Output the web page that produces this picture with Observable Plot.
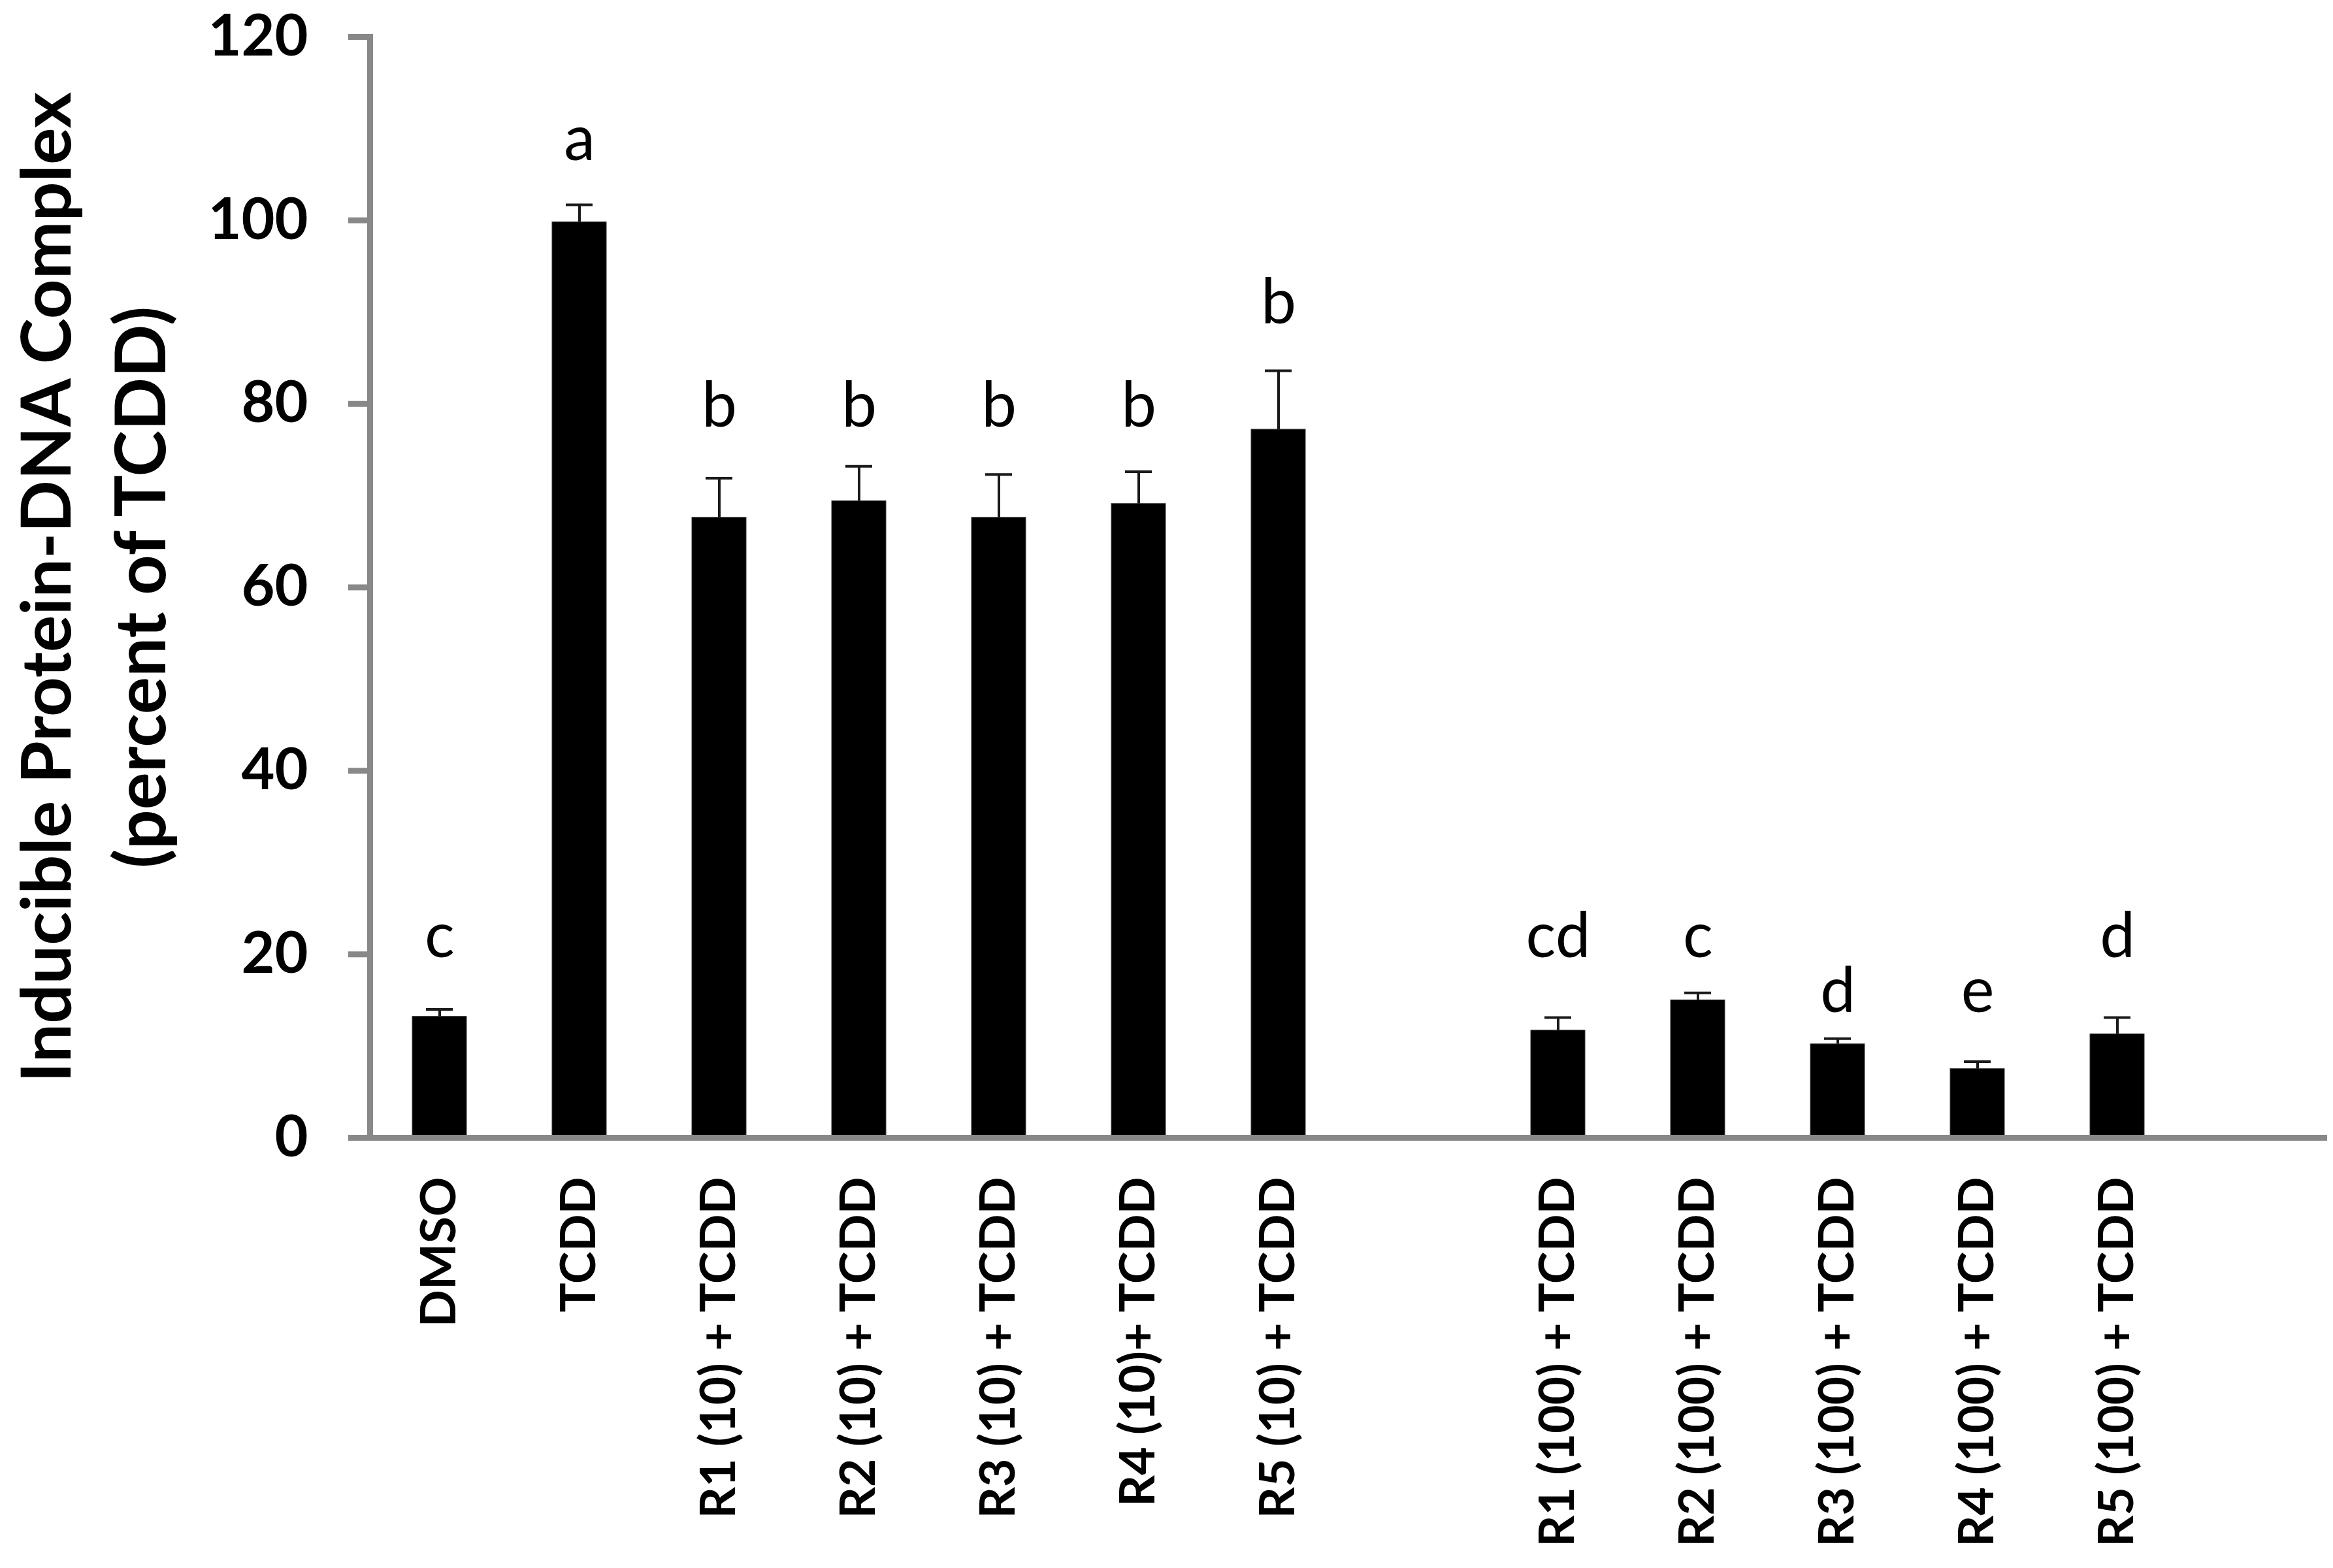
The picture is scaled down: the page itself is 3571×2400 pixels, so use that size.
<!DOCTYPE html>
<html>
<head>
<meta charset="utf-8">
<script src="https://cdn.jsdelivr.net/npm/d3@7"></script>
<script src="https://cdn.jsdelivr.net/npm/@observablehq/plot@0.6"></script>
<style>
  html, body { margin: 0; padding: 0; background: #fff; }
  svg { display: block; }
</style>
</head>
<body>
<div id="chart"></div>
<script>
// ---- data ----
const categories = [
  "DMSO", "TCDD",
  "R1 (10) + TCDD", "R2 (10) + TCDD", "R3 (10) + TCDD", "R4 (10)+ TCDD", "R5 (10) + TCDD",
  " ",
  "R1 (100) + TCDD", "R2 (100) + TCDD", "R3 (100) + TCDD", "R4 (100) + TCDD", "R5 (100) + TCDD",
  "  "
];
const treatments = [
  "DMSO", "TCDD",
  "R1 (10) + TCDD", "R2 (10) + TCDD", "R3 (10) + TCDD", "R4 (10)+ TCDD", "R5 (10) + TCDD",
  "R1 (100) + TCDD", "R2 (100) + TCDD", "R3 (100) + TCDD", "R4 (100) + TCDD", "R5 (100) + TCDD"
];
const means = [13.2, 99.8, 67.6, 69.4, 67.6, 69.1, 77.2, 11.7, 15.0, 10.2, 7.5, 11.3];
const sems  = [0.8, 1.9, 4.3, 3.8, 4.7, 3.5, 6.4, 1.4, 0.8, 0.6, 0.8, 1.8];
const letters = ["c", "a", "b", "b", "b", "b", "b", "cd", "c", "d", "e", "d"];
const letterLevels = [19.7, 106.6, 77.5, 77.5, 77.5, 77.5, 88.8, 19.7, 19.7, 13.7, 13.7, 19.7];
const yTicks = [0, 20, 40, 60, 80, 100, 120];
const yTitle1 = "Inducible Protein-DNA Complex";
const yTitle2 = "(percent of TCDD)";

const rows = treatments.map((name, i) => ({
  name, mean: means[i], sem: sems[i], letter: letters[i], letterAt: letterLevels[i]
}));

const GRAY = "#888888";
const FONT = "Lato, 'Open Sans', sans-serif";

const chart = Plot.plot({
  width: 3571,
  height: 2400,
  marginLeft: 566,
  marginRight: 9,
  marginTop: 56,
  marginBottom: 659,
  style: { background: "#ffffff", fontFamily: FONT, color: "#000" },
  x: { domain: categories, paddingInner: 0.61, paddingOuter: 0.305, axis: null },
  y: { domain: [0, 120], axis: null },
  marks: [
    Plot.barY(rows, { x: "name", y: "mean", fill: "#000", stroke: "#3a3a3a", strokeWidth: 1 }),
    Plot.ruleX(rows, { x: "name", y1: "mean", y2: d => d.mean + d.sem, stroke: "#1a1a1a", strokeWidth: 4 }),
    Plot.tickY(rows, { x: "name", y: d => d.mean + d.sem, stroke: "#1a1a1a", strokeWidth: 4, insetLeft: 21, insetRight: 21 }),
    Plot.text(rows, { x: "name", y: "letterAt", text: "letter", fontSize: 96, lineAnchor: "bottom", fill: "#000" }),
    Plot.frame({ anchor: "left", stroke: GRAY, strokeWidth: 9 }),
    Plot.ruleY([0], { stroke: GRAY, strokeWidth: 9 }),
    Plot.axisY({ ticks: yTicks, tickSize: 33, tickPadding: 62, fontSize: 88, fontWeight: "bold", stroke: GRAY, strokeWidth: 9, fill: "#000", label: null }),
    Plot.axisX({ tickRotate: -90, tickSize: 0, tickPadding: 60, fontSize: 75, fontWeight: "bold", fill: "#000", label: null }),
    Plot.text([yTitle1], { frameAnchor: "left", textAnchor: "middle", rotate: -90, dx: -459, lineAnchor: "bottom", fontSize: 106, fontWeight: "bold", fill: "#000" }),
    Plot.text([yTitle2], { frameAnchor: "left", textAnchor: "middle", rotate: -90, dx: -314, lineAnchor: "bottom", fontSize: 107, fontWeight: "bold", fill: "#000" })
  ]
});
document.getElementById("chart").appendChild(chart);
</script>
</body>
</html>
